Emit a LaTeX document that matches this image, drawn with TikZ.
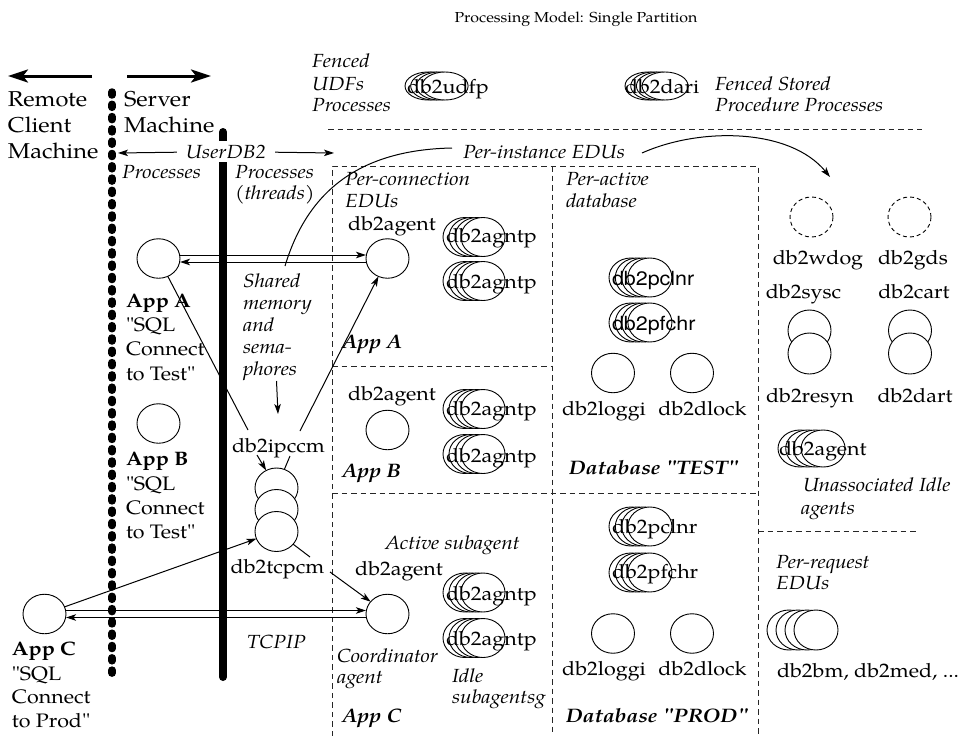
\documentclass[tikz,border=0pt]{standalone}
\usepackage{fontspec}
\setmainfont{texgyrepagella}[Extension=.otf, UprightFont=*-regular, BoldFont=*-bold, ItalicFont=*-italic, BoldItalicFont=*-bolditalic, FakeStretch=1.1, Ligatures=TeXOff]
\newfontfamily\sansf{TeX Gyre Heros}[FakeStretch=1.1]
\usetikzlibrary{arrows.meta,shapes.geometric}
\newcommand\hstk[7]{\foreach \k in {1,...,#4}{\node[proc, minimum width=#6, minimum height=#7] (#1\k) at ({#2+(\k-1)*#5},#3) {};}}
\tikzset{
 every node/.style={inner sep=0pt, outer sep=0pt},
 up/.style={font=\fontsize{19.5}{22}\selectfont, anchor=base},
 upw/.style={up, anchor=base west},
 big/.style={font=\fontsize{21.5}{26}\selectfont, anchor=base west},
 itl/.style={font=\fontsize{19}{22}\selectfont\itshape, anchor=base west},
 bfw/.style={font=\fontsize{19.5}{22}\selectfont\bfseries, anchor=base west},
 bit/.style={font=\fontsize{19.5}{22}\selectfont\bfseries\itshape, anchor=base west},
 sans/.style={font=\sansf\fontsize{19.5}{22}\selectfont, anchor=base west},
 proc/.style={draw, fill=white, ellipse, minimum width=43, minimum height=39.5, line width=0.9},
 dproc/.style={proc, dash pattern=on 4pt off 3pt},
 dsh/.style={line width=0.9, dash pattern=on 5.5pt off 4pt, black!85},
 conn/.style={line width=1},
 tip/.style={-{Stealth[length=10pt,width=6.5pt,inset=2.5pt]}},
 bigarrow/.style={line width=3, -{Stealth[length=20pt,width=13pt,inset=5pt]}},
}
\begin{document}
\begin{tikzpicture}[x=1pt,y=-1pt]
\fill[white] (0,0) rectangle (972,736);
\useasboundingbox (0,0) rectangle (972,736);

% title
\node[font=\fontsize{14.5}{17}\selectfont, anchor=base] (title) at (576,23) {Processing Model: Single Partition};

% machine boundaries
\coordinate (la1) at (92,76); \coordinate (la2) at (8,76);
\coordinate (ra1) at (127,76); \coordinate (ra2) at (211,76);
\draw[bigarrow] (la1) -- (la2);
\draw[bigarrow] (ra1) -- (ra2);
\draw[line width=7.5, line cap=round, dash pattern=on 3pt off 9.3pt] (112,92) -- (112,678);
\draw[line width=8, line cap=round] (223,132) -- (223,677);

\node[big] (remote) at (8,106) {Remote};
\node[big] (client) at (8,132) {Client};
\node[big] (cmach) at (8,158) {Machine};
\node[big] (server) at (124,106) {Server};
\node[big] (smach) at (124,132) {Machine};

\node[itl, anchor=base, fill=white, inner xsep=2pt, inner ysep=4pt] (ud) at (226,158) {UserDB2};
\coordinate (udl) at (118,153); \coordinate (udr) at (334,153);
\draw[conn, tip, shorten <=7pt] (ud) -- (udl);
\draw[conn, tip, shorten <=7pt] (ud) -- (udr);
\node[itl] (procL) at (122,178) {Processes};
\node[itl] (procR) at (235,178) {Processes};
\node[itl] (threads) at (235,199) {(threads)};

% dashed structure
\draw[dsh] (328,129) -- (922,129);
\draw[dsh] (332,736) -- (332,166) -- (758,166) -- (758,736);
\draw[dsh] (552,166) -- (552,736);
\draw[dsh] (332,366) -- (552,366);
\draw[dsh] (332,493) -- (758,493);
\draw[dsh] (758,531) -- (917,531);

% fenced
\node[itl] (f1) at (312,67) {Fenced};
\node[itl] (f2) at (312,90) {UDFs};
\node[itl] (f3) at (312,111) {Processes};
\hstk{udf}{428}{86}{4}{5.7}{46}{28}
\node[upw] (udfp) at (407,93) {db2udfp};
\hstk{dari}{648}{86}{4}{5.7}{46}{28}
\node[upw] (darit) at (625,93) {db2dari};
\node[itl] (fs1) at (715,90) {Fenced Stored};
\node[itl] (fs2) at (715,111) {Procedure Processes};

% per-instance
\node[itl] (perinst) at (463,158) {Per-instance EDUs};
\coordinate (pi1) at (452,148); \coordinate (shtop) at (285,266);
\draw[conn] (pi1) .. controls (350,150) and (305,200) .. (shtop);
\coordinate (pi2) at (642,153); \coordinate (pi3) at (830,177);
\draw[conn, tip] (pi2) .. controls (700,127) and (790,128) .. (pi3);

\node[itl] (pc1) at (345,185) {Per-connection};
\node[itl] (pc2) at (345,207) {EDUs};
\node[itl] (pa1) at (566,185) {Per-active};
\node[itl] (pa2) at (566,207) {database};

% left apps
\node[proc] (appA) at (158.5,258.5) {};
\node[proc] (appB) at (158.5,423.5) {};
\node[proc] (appC) at (44.5,614) {};
\node[bfw] (appAt) at (126,307) {App A};
\node[upw] (appA1) at (126,331) {"SQL};
\node[upw] (appA2) at (126,355.5) {Connect};
\node[upw] (appA3) at (126,380) {to Test"};
\node[bfw] (appBt) at (126,465) {App B};
\node[upw] (appB1) at (126,490) {"SQL};
\node[upw] (appB2) at (126,514) {Connect};
\node[upw] (appB3) at (126,538.5) {to Test"};
\node[bfw] (appCt) at (12,655) {App C};
\node[upw] (appC1) at (12,680) {"SQL};
\node[upw] (appC2) at (12,703.5) {Connect};
\node[upw] (appC3) at (12,727) {to Prod"};

% shared memory
\node[itl] (sm1) at (243,287) {Shared};
\node[itl] (sm2) at (243,309) {memory};
\node[itl] (sm3) at (243,331) {and};
\node[itl] (sm4) at (243,353) {sema-};
\node[itl] (sm5) at (243,375) {phores};

% ipccm / tcpcm stack
\node[proc, minimum height=40] (ip1) at (276.5,488) {};
\node[proc, minimum height=40] (ip2) at (276.5,509.5) {};
\node[proc, minimum height=40] (ip3) at (276.5,531.5) {};
\node[up] (ipccm) at (278.5,452) {db2ipccm};
\node[up] (tcpcm) at (277.5,573) {db2tcpcm};
\node[itl] (tcpip) at (247,648) {TCPIP};

% agents
\node[up] (agA) at (392,230) {db2agent};
\node[proc] (aA) at (387.5,258.5) {};
\node[up] (agB) at (392,400) {db2agent};
\node[proc] (aB) at (387.5,430) {};
\node[itl] (actsub) at (385,549) {Active subagent};
\node[up] (agC) at (399,575) {db2agent};
\node[proc] (aC) at (387.5,614) {};
\node[itl] (coord1) at (337,662) {Coordinator};
\node[itl] (coord2) at (337,683) {agent};
\node[itl] (idle1) at (452,682) {Idle};
\node[itl] (idle2) at (452,703) {subagentsg};
\node[bit] (appAb) at (342,348) {App A};
\node[bit] (appBb) at (342,477) {App B};
\node[bit] (appCb) at (342,722) {App C};

\hstk{agA}{465}{237}{4}{6}{44}{39}
\node[upw] (agAt1) at (446,242) {db2agntp};
\hstk{agB}{465}{281}{4}{6}{44}{39}
\node[upw] (agAt2) at (446,288) {db2agntp};
\hstk{agC}{465}{409}{4}{6}{44}{39}
\node[upw] (agBt1) at (446,415) {db2agntp};
\hstk{agD}{465}{454}{4}{6}{44}{39}
\node[upw] (agBt2) at (446,462) {db2agntp};
\hstk{agE}{465}{592.5}{4}{6}{44}{39}
\node[upw] (agCt1) at (446,600) {db2agntp};
\hstk{agF}{465}{638}{4}{6}{44}{39}
\node[upw] (agCt2) at (446,645) {db2agntp};

% database TEST
\hstk{pcT}{631}{277.5}{4}{6.3}{44}{39}
\node[sans] (pcTt) at (612,285) {db2pclnr};
\hstk{pfT}{631}{322.5}{4}{6.3}{44}{39}
\node[sans] (pfTt) at (612,330) {db2pfchr};
\node[proc] (logT) at (613,373) {};
\node[proc] (dlkT) at (692,373) {};
\node[up] (logTt) at (604,415) {db2loggi};
\node[up] (dlkTt) at (702.5,415) {db2dlock};
\node[bit] (dbT) at (569,474) {Database "TEST"};

% database PROD
\hstk{pcP}{631}{526.5}{4}{6.3}{44}{39}
\node[upw] (pcPt) at (612,533) {db2pclnr};
\hstk{pfP}{631}{572.5}{4}{6.3}{44}{39}
\node[upw] (pfPt) at (612,578) {db2pfchr};
\node[proc] (logP) at (613,633.5) {};
\node[proc] (dlkP) at (692,633.5) {};
\node[up] (logPt) at (604,675) {db2loggi};
\node[up] (dlkPt) at (702.5,675) {db2dlock};
\node[bit] (dbP) at (566,722) {Database "PROD"};

% per-instance EDUs
\node[dproc, minimum height=40] (wdog) at (811.5,217) {};
\node[dproc, minimum height=40] (gds) at (909.5,217) {};
\node[up] (wdogt) at (818,264) {db2wdog};
\node[up] (gdst) at (913,264) {db2gds};
\node[up] (sysct) at (803.5,298) {db2sysc};
\node[up] (cartt) at (914,298) {db2cart};
\node[proc, minimum height=41] (sy1) at (809.5,330.5) {};
\node[proc, minimum height=41] (sy2) at (809.5,353.5) {};
\node[proc, minimum height=41] (ca1) at (910,330.5) {};
\node[proc, minimum height=41] (ca2) at (910,353.5) {};
\node[up] (resynt) at (810,402) {db2resyn};
\node[up] (dartt) at (915,402) {db2dart};
\hstk{un}{800}{448.5}{4}{7.7}{44}{37}
\node[upw] (unt) at (779,455) {db2agent};
\node[itl] (un1) at (803,491) {Unassociated Idle};
\node[itl] (un2) at (801,514) {agents};

% per-request
\node[itl] (pr1) at (776,568) {Per-request};
\node[itl] (pr2) at (776,589) {EDUs};
\hstk{pr}{789}{630}{4}{9}{44}{40}
\node[upw] (prt) at (777,677) {db2bm, db2med, ...};

% connections
\draw[conn, tip] ([yshift=3.5pt]appA.east) -- ([yshift=3.5pt]aA.west);
\draw[conn, tip] ([yshift=-3.5pt]aA.west) -- ([yshift=-3.5pt]appA.east);
\draw[conn, tip] ([yshift=3.5pt]appC.east) -- ([yshift=3.5pt]aC.west);
\draw[conn, tip] ([yshift=-3.5pt]aC.west) -- ([yshift=-3.5pt]appC.east);

\coordinate (ipa) at (248,430);
\coordinate (ipb) at (257,455);
\coordinate (ipc) at (290,456);
\coordinate (ipd) at (300,431);
\draw[conn] (appA) -- (ipa);
\draw[conn, tip] (ipb) -- (ip1);
\draw[conn] (ip1) -- (ipc);
\draw[conn, tip] (ipd) -- (aA);
\coordinate (sma) at (276.5,381);
\coordinate (smb) at (278,414);
\draw[conn, tip] (sma) -- (smb);

\coordinate (tca) at (310,557);
\coordinate (tcb) at (330,572);
\draw[conn, tip] (appC) -- (ip3);
\draw[conn] (ip3) -- (tca);
\draw[conn, tip] (tcb) -- (aC);
\end{tikzpicture}
\end{document}
